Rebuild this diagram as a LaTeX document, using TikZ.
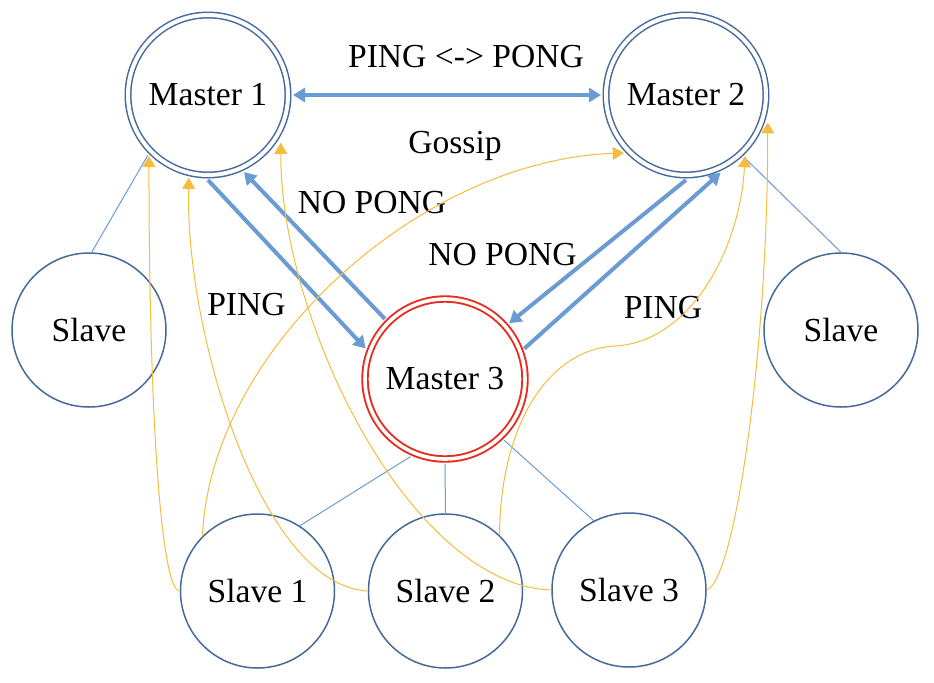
\documentclass[tikz,border=0pt]{standalone}
\usepackage{fontspec}
\setmainfont{Liberation Serif}
\usetikzlibrary{arrows.meta}
\definecolor{circblue}{HTML}{44699B}
\definecolor{arrblue}{HTML}{6A9BD3}
\definecolor{mred}{HTML}{E8291C}
\definecolor{gold}{HTML}{F5BC3E}
\tikzset{
  txt/.style={font=\fontsize{16.8}{20}\selectfont},
  master/.style={circle, draw=circblue, line width=0.75pt, double=white,
    double distance=2pt, minimum size=80pt, inner sep=0pt, outer sep=2.5pt, txt},
  leader/.style={master, draw=mred, line width=0.95pt, double distance=1.8pt},
  slavebox/.style={circle, draw=circblue, line width=0.75pt, minimum size=77pt,
    inner sep=0pt, outer sep=0.4pt, txt},
  lbl/.style={anchor=base, inner sep=0pt, txt},
  bigline/.style={draw=arrblue, line width=2pt},
  bigarrow/.style={bigline, -{Triangle[length=6pt,width=7pt]}},
  botharrow/.style={bigline, {Triangle[length=6pt,width=7pt]}-{Triangle[length=6pt,width=7pt]}},
  link/.style={draw=arrblue, line width=0.5pt},
  gossip/.style={draw=gold, line width=0.5pt, -{Triangle[length=5.5pt,width=6.5pt]}},
}
\begin{document}
\begin{tikzpicture}[x=0.5pt, y=-0.5pt]
\useasboundingbox (0,0) rectangle (934,682);

% nodes
\node[master] (m1) at (208,95) {Master 1};
\node[master] (m2) at (686,95) {Master 2};
\node[leader] (m3) at (445,379) {Master 3};
\node[slavebox] (sL) at (89,330) {Slave};
\node[slavebox] (sR) at (841,330) {Slave};
\node[slavebox] (s1) at (257.5,591) {Slave 1};
\node[slavebox] (s2) at (445.5,591) {Slave 2};
\node[slavebox] (s3) at (629,590) {Slave 3};

% labels
\node[lbl] (lpp) at (466,67) {PING <-> PONG};
\node[lbl] (lgos) at (455,153) {Gossip};
\node[lbl] (lnp1) at (372,213) {NO PONG};
\node[lbl] (lnp2) at (502.5,265) {NO PONG};
\node[lbl] (lping1) at (246.5,315) {PING};
\node[lbl] (lping2) at (663,318) {PING};

% master connections
\draw[botharrow] (m1.east) -- (m2.west);
\draw[bigarrow] (m1.-90) -- (m3.159);
\draw[bigarrow] (m3.135) -- (m1.-65);
\draw[bigarrow] (m2.-90) -- (m3.41);
\draw[bigarrow] (m3.21) -- (m2.-66);

% slave links
\draw[link] (sL.88) -- (m1.225);
\draw[link] (sR.90) -- (m2.-47);
\draw[link] (m3.-114) -- (s1.57);
\draw[link] (m3.-90) -- (s2.90);
\draw[link] (m3.-46) -- (s3.117);

% gossip / ping curves
\draw[gossip] (s1.west) .. controls (160,590) and (149,400) .. (m1.226);
\draw[gossip] (s1.135) .. controls (210,350) and (420,160) .. (m2.223);
\draw[gossip] (s2.west) .. controls (260,585) and (185,330) .. (m1.257);
\draw[gossip, shorten >=2pt] (s3.west) .. controls (410,585) and (280,320) .. (m1.-31);
\draw[gossip] (s2.46) .. controls (500,430) and (545,350) .. (615,346)
   .. controls (690,342) and (740,250) .. (m2.-46);
\draw[gossip, shorten >=2pt] (s3.east) .. controls (735,580) and (768,350) .. (m2.-16);
\end{tikzpicture}
\end{document}
